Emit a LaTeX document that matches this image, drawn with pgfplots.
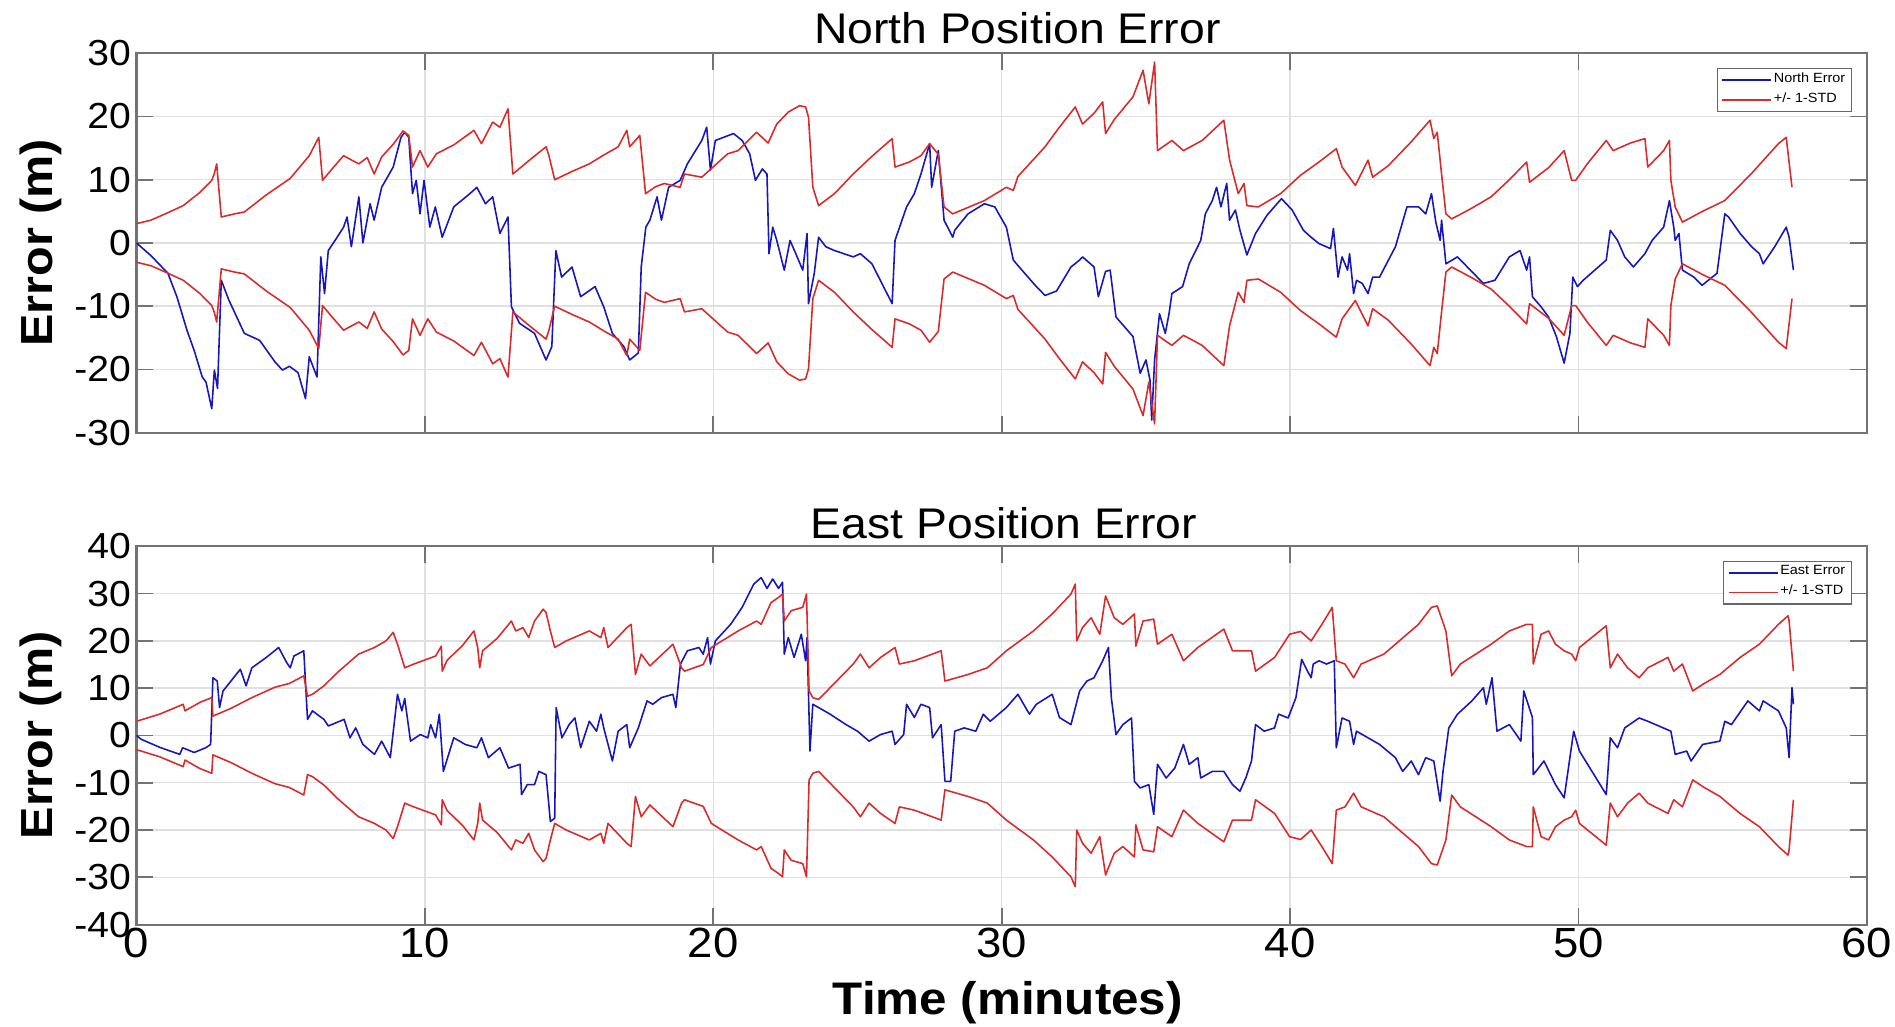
\documentclass[border=0pt]{standalone}
\usepackage{fontspec}
\setmainfont{Liberation Sans}[FakeStretch=1.08]
\usepackage{pgfplots}
\usepackage{pgfplotstable}
\pgfplotsset{compat=1.18}
\definecolor{mblue}{RGB}{22,22,190}
\definecolor{mred}{RGB}{218,42,42}

\pgfplotstableread{
t v
0 0
0.5 -2.0
1.09 -4.8
1.4 -8.5
1.75 -13.8
2.0 -17.0
2.28 -21.2
2.41 -22.0
2.61 -26.2
2.7 -20.1
2.81 -23.0
2.94 -5.9
3.2 -9.0
3.74 -14.3
4.27 -15.4
4.8 -18.8
5.06 -20.1
5.3 -19.5
5.6 -20.5
5.86 -24.6
5.99 -18.0
6.26 -21.2
6.39 -2.2
6.52 -8.0
6.65 -1.2
6.9 0.5
7.18 2.5
7.3 4.1
7.45 -0.6
7.71 7.3
7.85 0.0
8.1 6.2
8.24 3.6
8.5 8.8
8.9 12.0
9.17 16.7
9.3 17.5
9.44 16.7
9.57 7.8
9.7 9.9
9.83 4.6
9.97 9.9
10.17 2.5
10.36 5.7
10.6 0.9
11.0 5.7
11.56 7.8
11.8 8.8
12.1 6.2
12.35 7.3
12.6 1.5
12.88 4.1
13.0 -10.1
13.28 -12.7
13.8 -14.3
14.2 -18.5
14.4 -16.4
14.54 -1.2
14.74 -5.4
15.1 -3.8
15.4 -8.5
15.9 -6.9
16.2 -10.1
16.5 -14.3
16.9 -16.4
17.1 -18.5
17.4 -17.4
17.5 -3.8
17.66 2.5
17.8 3.6
18.05 7.3
18.2 3.6
18.45 8.8
18.85 9.9
19.1 12.5
19.6 16.2
19.77 18.3
19.9 11.5
20.07 16.2
20.7 17.3
21.0 16.2
21.26 14.1
21.46 9.9
21.7 11.7
21.86 10.9
21.93 -1.7
22.06 2.5
22.2 0.4
22.46 -4.3
22.66 0.4
22.86 -1.7
23.1 -4.3
23.25 1.5
23.3 -9.6
23.5 -4.8
23.65 0.9
23.9 -0.6
24.2 -1.2
24.85 -2.2
25.1 -1.7
25.5 -3.3
26.2 -9.6
26.3 0.4
26.7 5.7
26.97 7.8
27.2 10.9
27.5 15.7
27.57 8.8
27.8 14.6
28.0 3.6
28.3 0.9
28.37 2.0
28.83 4.6
29.4 6.2
29.76 5.7
30.16 2.5
30.4 -2.7
30.7 -4.3
31.2 -6.9
31.5 -8.3
31.9 -7.6
32.4 -3.8
32.7 -2.7
32.8 -2.2
33.2 -3.8
33.35 -8.5
33.6 -4.5
33.76 -4.3
33.96 -11.7
34.55 -14.8
34.8 -20.6
35.0 -18.5
35.14 -21.7
35.2 -28.0
35.3 -18.5
35.47 -11.2
35.67 -14.3
35.8 -11.2
35.9 -8.0
36.27 -6.9
36.5 -3.3
36.9 0.4
37.06 4.6
37.3 6.7
37.45 8.8
37.6 5.7
37.8 9.4
37.9 3.6
38.1 5.2
38.26 2.0
38.5 -1.9
38.8 1.5
39.2 4.4
39.7 7.0
40.07 5.2
40.46 2.0
40.7 1.0
41.0 -0.1
41.4 -0.9
41.5 2.3
41.66 -5.4
41.8 -2.2
41.99 -4.3
42.06 -1.7
42.2 -8.0
42.3 -5.9
42.5 -6.4
42.7 -8.0
42.86 -5.4
43.1 -5.4
43.65 -0.6
44.05 5.7
44.45 5.7
44.7 4.6
44.9 7.8
45.05 3.3
45.2 0.4
45.25 3.6
45.4 -3.3
45.8 -2.2
46.7 -6.4
47.1 -5.9
47.6 -2.2
47.97 -1.2
48.2 -4.3
48.3 -2.2
48.4 -8.5
48.7 -10.1
48.96 -11.7
49.23 -14.8
49.5 -19.0
49.7 -14.3
49.8 -5.4
49.96 -6.9
50.16 -5.9
50.96 -2.7
51.1 2.0
51.35 0.4
51.6 -2.2
51.9 -3.8
52.3 -1.7
52.55 0.4
52.95 2.5
53.15 6.7
53.3 2.5
53.35 0.4
53.48 1.5
53.6 -4.3
54.0 -5.4
54.28 -6.7
54.8 -4.8
55.07 4.6
55.2 4.1
55.6 1.5
56.0 -0.6
56.27 -1.7
56.4 -3.3
56.8 -0.6
57.2 2.5
57.3 0.9
57.45 -4.3
}\northerr

\pgfplotstableread{
t s ns
0 3.05 -3.05
0.5 3.6 -3.6
1.0 4.6 -4.6
1.62 5.9 -5.9
2.2 8.0 -8.0
2.61 9.9 -9.9
2.7 11.0 -11.0
2.78 12.5 -12.5
2.94 4.1 -4.1
3.4 4.6 -4.6
3.74 4.9 -4.9
4.5 7.6 -7.6
5.33 10.2 -10.2
5.99 13.8 -13.8
6.32 16.7 -16.7
6.45 9.9 -9.9
6.8 11.8 -11.8
7.18 13.8 -13.8
7.5 13.0 -13.0
7.71 12.5 -12.5
8.0 13.5 -13.5
8.24 10.9 -10.9
8.5 13.6 -13.6
8.9 15.6 -15.6
9.24 17.7 -17.7
9.44 17.0 -17.0
9.57 12.0 -12.0
9.83 14.6 -14.6
10.1 12.0 -12.0
10.4 14.1 -14.1
11.0 15.5 -15.5
11.7 17.8 -17.8
11.96 15.7 -15.7
12.35 19.1 -19.1
12.6 18.3 -18.3
12.88 21.2 -21.2
13.05 10.9 -10.9
13.6 13.0 -13.0
14.2 15.2 -15.2
14.3 13.8 -13.8
14.5 10.0 -10.0
15.1 11.3 -11.3
15.7 12.5 -12.5
16.2 13.9 -13.9
16.7 15.2 -15.2
17.0 17.8 -17.8
17.1 15.2 -15.2
17.45 17.0 -17.0
17.65 7.8 -7.8
18.0 8.9 -8.9
18.3 9.4 -9.4
18.85 8.8 -8.8
19.0 10.9 -10.9
19.6 10.4 -10.4
20.5 14.1 -14.1
20.86 14.6 -14.6
21.5 17.5 -17.5
21.9 15.8 -15.8
22.2 18.8 -18.8
22.6 20.7 -20.7
22.99 21.7 -21.7
23.2 21.5 -21.5
23.3 19.9 -19.9
23.45 8.8 -8.8
23.65 5.9 -5.9
24.2 7.8 -7.8
24.85 10.9 -10.9
25.5 13.7 -13.7
26.2 16.5 -16.5
26.3 12.0 -12.0
26.8 12.8 -12.8
27.2 13.8 -13.8
27.5 15.7 -15.7
27.8 14.0 -14.0
28.0 5.7 -5.7
28.3 4.6 -4.6
29.4 6.7 -6.7
30.16 8.8 -8.8
30.4 8.3 -8.3
30.56 10.5 -10.5
31.5 15.2 -15.2
32.0 18.3 -18.3
32.55 21.5 -21.5
32.8 18.8 -18.8
33.2 20.5 -20.5
33.5 22.3 -22.3
33.6 17.3 -17.3
33.9 19.5 -19.5
34.55 23.1 -23.1
34.9 27.3 -27.3
35.1 22.0 -22.0
35.3 28.6 -28.6
35.4 14.6 -14.6
35.9 16.2 -16.2
36.3 14.6 -14.6
36.95 16.2 -16.2
37.7 19.4 -19.4
37.9 13.1 -13.1
38.2 7.8 -7.8
38.4 9.4 -9.4
38.5 5.9 -5.9
38.9 5.7 -5.7
39.67 7.8 -7.8
40.36 10.7 -10.7
41.0 12.8 -12.8
41.6 14.9 -14.9
41.8 12.0 -12.0
42.26 9.1 -9.1
42.7 13.1 -13.1
42.86 10.4 -10.4
43.4 12.2 -12.2
44.2 16.0 -16.0
44.85 19.4 -19.4
44.98 16.5 -16.5
45.1 17.5 -17.5
45.25 10.9 -10.9
45.4 4.6 -4.6
45.6 3.8 -3.8
46.3 5.5 -5.5
46.97 7.3 -7.3
47.6 10.0 -10.0
48.2 12.8 -12.8
48.3 9.6 -9.6
48.96 11.9 -11.9
49.5 14.6 -14.6
49.76 9.9 -9.9
49.9 9.9 -9.9
50.3 12.5 -12.5
50.96 16.2 -16.2
51.2 14.6 -14.6
51.8 15.8 -15.8
52.3 16.5 -16.5
52.4 12.0 -12.0
52.95 14.6 -14.6
53.15 16.2 -16.2
53.2 9.9 -9.9
53.35 5.7 -5.7
53.6 3.3 -3.3
54.3 5.0 -5.0
55.07 6.7 -6.7
56.0 11.0 -11.0
56.93 15.7 -15.7
57.2 16.7 -16.7
57.4 8.8 -8.8
}\northstd

\pgfplotstableread{
t v
0 0
0.16 -0.8
0.8 -2.5
1.5 -4.0
1.6 -2.6
2.0 -3.6
2.4 -2.6
2.57 -1.9
2.65 12.2
2.8 11.5
2.88 5.9
3.0 9.4
3.6 14.0
3.8 10.5
4.0 14.3
4.5 16.5
4.93 18.6
5.2 15.5
5.33 14.3
5.46 16.8
5.8 17.9
5.93 3.4
6.1 5.2
6.5 3.4
6.65 2.0
7.2 3.4
7.4 -0.5
7.6 1.6
7.85 -1.9
8.25 -4.0
8.5 -1.2
8.8 -4.7
9.05 8.7
9.2 5.2
9.3 7.8
9.5 -1.2
9.84 0.2
10.1 -0.5
10.2 2.3
10.37 -0.5
10.5 4.5
10.64 -7.6
11.0 -0.5
11.4 -1.9
11.8 -2.6
11.96 -0.5
12.2 -4.7
12.6 -2.6
12.9 -6.9
13.3 -6.1
13.35 -12.5
13.55 -10.4
13.8 -10.4
13.95 -7.6
14.2 -8.3
14.35 -18.2
14.5 -17.5
14.55 5.9
14.75 -0.5
15.0 2.3
15.2 3.7
15.4 -2.6
15.7 3.0
15.95 0.9
16.1 4.5
16.2 1.6
16.5 -5.4
16.7 0.9
17.0 2.3
17.1 -2.6
17.4 1.6
17.7 7.3
17.9 6.6
18.2 8.0
18.6 8.7
18.7 5.9
18.86 15.1
19.1 17.9
19.5 18.6
19.65 17.2
19.8 20.7
19.9 15.1
20.07 20.0
20.6 23.5
21.0 27.1
21.4 32.0
21.66 33.4
21.86 31.1
22.06 33.1
22.26 31.1
22.4 32.4
22.46 17.2
22.6 20.7
22.8 16.5
23.05 21.4
23.2 15.8
23.25 20.7
23.35 -3.3
23.45 6.6
23.65 5.9
24.05 4.5
24.6 2.3
25.0 0.9
25.4 -1.2
25.8 0.2
26.2 0.9
26.3 -1.9
26.6 0.2
26.7 6.6
26.97 3.8
27.2 6.6
27.5 5.9
27.6 -0.5
27.9 2.3
28.03 -9.7
28.23 -9.7
28.37 0.9
28.7 1.6
29.1 0.9
29.36 4.5
29.6 3.0
30.16 5.9
30.56 8.7
30.96 4.5
31.2 6.6
31.75 8.7
32.0 3.8
32.4 2.3
32.7 9.4
32.95 11.5
33.2 12.2
33.5 15.8
33.7 18.6
33.8 8.0
33.96 0.2
34.2 2.3
34.5 3.7
34.6 -9.7
34.8 -11.1
35.1 -10.4
35.27 -16.7
35.4 -6.1
35.7 -9.0
36.0 -6.9
36.3 -1.9
36.5 -6.1
36.8 -4.7
36.9 -9.0
37.3 -7.6
37.7 -7.6
38.0 -10.4
38.26 -11.8
38.46 -9.0
38.66 -5.4
38.8 2.3
39.1 0.9
39.46 1.6
39.6 4.5
39.93 3.7
40.2 8.0
40.4 16.1
40.6 13.6
40.73 12.2
40.8 15.1
41.0 15.8
41.26 15.1
41.53 15.8
41.6 -2.6
41.8 3.7
42.06 3.0
42.2 -1.9
42.3 0.9
42.7 -0.5
43.1 -1.9
43.65 -4.7
43.9 -7.6
44.2 -5.4
44.45 -8.3
44.7 -4.7
44.98 -5.4
45.2 -13.9
45.3 -7.6
45.5 1.6
45.8 4.5
46.3 7.3
46.7 10.1
46.8 6.6
47.0 12.2
47.17 0.9
47.6 2.3
48.0 -1.2
48.1 9.4
48.4 3.8
48.43 -8.3
48.8 -5.4
49.2 -10.4
49.5 -13.2
49.83 0.9
50.03 -3.3
50.96 -12.5
51.1 -0.5
51.35 -2.6
51.6 1.6
52.1 3.7
52.4 3.0
53.2 0.9
53.35 -4.0
53.75 -3.3
53.9 -5.4
54.3 -1.9
54.9 -1.2
55.07 3.0
55.3 2.3
55.87 7.3
56.27 5.2
56.4 7.3
56.93 5.2
57.2 1.6
57.3 -4.7
57.4 10.1
57.45 6.6
}\easterr

\pgfplotstableread{
t s ns
0 3.0 -3.0
0.8 4.5 -4.5
1.62 6.6 -6.6
1.68 5.2 -5.2
2.2 7.0 -7.0
2.61 8.0 -8.0
2.65 4.1 -4.1
3.3 5.8 -5.8
4.0 8.0 -8.0
4.8 10.2 -10.2
5.3 11.0 -11.0
5.8 12.6 -12.6
5.93 8.3 -8.3
6.1 8.7 -8.7
6.5 10.5 -10.5
7.0 13.5 -13.5
7.7 17.2 -17.2
8.25 18.6 -18.6
8.65 20.0 -20.0
8.9 21.8 -21.8
9.05 19.3 -19.3
9.3 14.3 -14.3
9.57 15.0 -15.0
10.37 16.8 -16.8
10.57 18.9 -18.9
10.6 13.6 -13.6
10.77 15.9 -15.9
11.3 19.0 -19.0
11.7 22.1 -22.1
11.83 18.6 -18.6
11.9 14.3 -14.3
12.0 17.9 -17.9
12.5 20.5 -20.5
13.0 24.2 -24.2
13.15 22.1 -22.1
13.4 22.8 -22.8
13.6 20.7 -20.7
13.8 24.2 -24.2
14.1 26.7 -26.7
14.2 26.0 -26.0
14.35 22.1 -22.1
14.5 18.6 -18.6
14.9 20.0 -20.0
15.7 22.1 -22.1
16.1 20.7 -20.7
16.2 22.8 -22.8
16.35 18.6 -18.6
17.0 22.8 -22.8
17.15 23.5 -23.5
17.3 12.9 -12.9
17.5 17.2 -17.2
17.8 14.7 -14.7
18.6 19.3 -19.3
18.9 14.3 -14.3
19.0 13.6 -13.6
19.65 15.0 -15.0
19.93 18.6 -18.6
20.3 20.0 -20.0
20.86 22.1 -22.1
21.5 24.2 -24.2
21.66 23.5 -23.5
22.0 28.1 -28.1
22.26 29.2 -29.2
22.4 29.9 -29.9
22.46 24.2 -24.2
22.7 26.4 -26.4
23.1 27.1 -27.1
23.23 29.9 -29.9
23.32 9.4 -9.4
23.45 8.0 -8.0
23.65 7.6 -7.6
24.85 15.1 -15.1
25.1 17.2 -17.2
25.4 14.3 -14.3
25.8 16.5 -16.5
26.3 18.6 -18.6
26.45 15.1 -15.1
26.97 15.8 -15.8
27.9 17.9 -17.9
28.03 11.5 -11.5
28.83 12.9 -12.9
29.5 14.3 -14.3
30.16 17.9 -17.9
31.1 22.1 -22.1
31.75 25.7 -25.7
32.4 29.9 -29.9
32.55 32.0 -32.0
32.6 20.0 -20.0
32.8 22.8 -22.8
33.1 24.9 -24.9
33.4 21.4 -21.4
33.6 29.5 -29.5
33.9 24.9 -24.9
34.2 23.5 -23.5
34.6 25.7 -25.7
34.65 18.9 -18.9
34.9 24.2 -24.2
35.27 24.6 -24.6
35.4 19.3 -19.3
35.9 21.4 -21.4
36.3 15.8 -15.8
36.8 18.6 -18.6
37.7 22.5 -22.5
38.0 17.9 -17.9
38.66 17.9 -17.9
38.8 13.6 -13.6
39.46 16.5 -16.5
39.98 21.4 -21.4
40.36 22.0 -22.0
40.73 20.0 -20.0
41.1 23.5 -23.5
41.46 27.1 -27.1
41.6 15.8 -15.8
41.9 15.1 -15.1
42.2 12.2 -12.2
42.46 15.1 -15.1
43.25 17.2 -17.2
43.65 19.3 -19.3
44.05 21.4 -21.4
44.45 23.5 -23.5
44.9 27.1 -27.1
45.1 27.4 -27.4
45.4 22.1 -22.1
45.6 12.6 -12.6
45.9 15.1 -15.1
46.97 19.3 -19.3
47.6 22.1 -22.1
48.2 23.5 -23.5
48.4 23.5 -23.5
48.43 15.1 -15.1
48.7 21.4 -21.4
48.96 22.1 -22.1
49.2 19.3 -19.3
49.5 17.9 -17.9
49.76 17.2 -17.2
49.9 15.8 -15.8
50.03 18.6 -18.6
50.96 23.2 -23.2
51.1 14.3 -14.3
51.35 17.2 -17.2
51.7 14.3 -14.3
52.1 12.2 -12.2
52.4 14.3 -14.3
53.1 16.5 -16.5
53.3 13.6 -13.6
53.6 15.1 -15.1
53.96 9.4 -9.4
54.3 10.8 -10.8
54.9 12.9 -12.9
55.6 16.5 -16.5
56.27 19.3 -19.3
56.93 23.5 -23.5
57.26 25.3 -25.3
57.3 24.2 -24.2
57.45 13.6 -13.6
}\eaststd

\pgfplotsset{
  matlab/.style={
    scale only axis,
    width=17.305cm,
    xmin=0, xmax=60,
    xtick={0,10,...,60},
    grid=major,
    major grid style={black!12, line width=0.4pt},
    axis line style={black!55, line width=0.6pt},
    tick align=inside,
    tick pos=both,
    xticklabel pos=lower,
    yticklabel pos=left,
    major tick length=4.8pt,
    tick style={black!55, line width=0.5pt},
    /pgf/number format/assume math mode=true,
    yticklabel style={font=\fontsize{10.3}{12}\selectfont, inner sep=0pt, xshift=-1.4pt},
    xticklabel style={font=\fontsize{12}{14}\selectfont, inner sep=0pt, yshift=-0.9pt},
    ylabel={Error (m)},
    ylabel style={font=\fontsize{12.8}{15}\bfseries\selectfont, at={(axis description cs:-0.0483,0.5)}, anchor=base},
    every axis title/.style={font=\fontsize{12.2}{14}\selectfont, anchor=base},
    legend cell align=left,
    legend style={at={(axis description cs:0.9913,0.961)}, anchor=north east,
      font=\fontsize{3.8}{4.6}\selectfont, draw=black!60, line width=0.4pt,
      fill=white, inner xsep=1.2pt, inner ysep=0.6pt,
      nodes={inner sep=0.5pt}, row sep=0.4pt},
    legend image code/.code={\draw[#1, line width=0.4pt] (0cm,0cm) -- (14pt,0cm);},
    every axis plot/.append style={line width=0.45pt, line join=round},
  }
}

\begin{document}
\begin{tikzpicture}
\useasboundingbox (0,0) rectangle (18.95cm,10.27cm);
\begin{axis}[matlab,
  at={(1.365cm,5.943cm)}, anchor=south west,
  height=3.795cm,
  ymin=-30, ymax=30, ytick={-30,-20,...,30},
  xticklabels={},
  title={North Position Error},
  title style={at={(axis description cs:0.509,1.026)}},
]
\addplot[mblue] table[x=t,y=v] {\northerr};
\addlegendentry{North Error}
\addplot[mred] table[x=t,y=s] {\northstd};
\addlegendentry{+/- 1-STD}
\addplot[mred, forget plot] table[x=t,y=ns] {\northstd};
\end{axis}

\begin{axis}[matlab,
  at={(1.365cm,1.024cm)}, anchor=south west,
  height=3.783cm,
  ymin=-40, ymax=40, ytick={-40,-30,...,40},
  title={East Position Error},
  title style={at={(axis description cs:0.5013,1.02)}},
  xlabel={Time (minutes)},
  xlabel style={font=\fontsize{13}{15}\bfseries\selectfont, at={(axis description cs:0.5035,-0.238)}, anchor=base},
]
\addplot[mblue] table[x=t,y=v] {\easterr};
\addlegendentry{East Error}
\addplot[mred] table[x=t,y=s] {\eaststd};
\addlegendentry{+/- 1-STD}
\addplot[mred, forget plot] table[x=t,y=ns] {\eaststd};
\end{axis}
\end{tikzpicture}
\end{document}
